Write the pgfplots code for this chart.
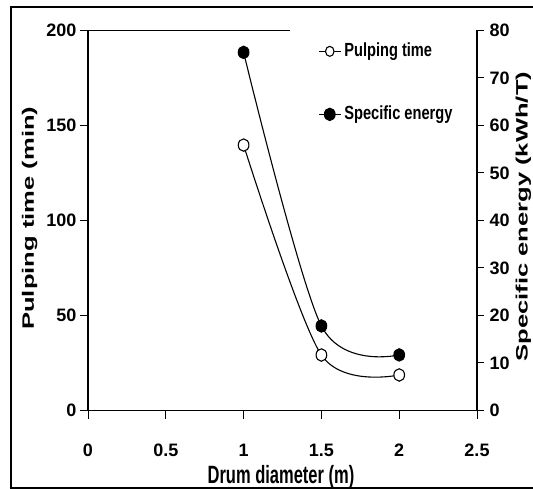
\documentclass[border=0pt]{standalone}
\usepackage{fontspec}
\setmainfont{Liberation Sans}
\newfontfamily\ylabfont{Liberation Sans}[FakeStretch=1.55]
\newfontfamily\xlabfont{Liberation Sans}[FakeStretch=0.66]
\newfontfamily\legfont{Liberation Sans}[FakeStretch=0.77]
\usepackage{pgfplots}
\pgfplotsset{compat=1.18}
\begin{document}
\begin{tikzpicture}
\useasboundingbox (0,0) rectangle (533bp,489bp);
\draw[line width=1.5bp] (11bp,1bp) rectangle (545bp,482bp);
\begin{axis}[
  at={(88bp,78.5bp)}, anchor=south west,
  width=389bp, height=380bp, scale only axis,
  xmin=0, xmax=2.5, ymin=0, ymax=200,
  axis x line*=bottom, axis y line*=left,
  xtick={0,0.5,1,1.5,2,2.5},
  xticklabels={0,0.5,1,1.5,2,2.5},
  ytick={0,50,100,150,200},
  tick align=outside, major tick length=8bp,
  tick style={black, line width=1bp},
  axis line style={line width=1.2bp},
  /pgf/number format/assume math mode=true,
  tick label style={font=\fontsize{18bp}{20bp}\selectfont\bfseries},
  xticklabel style={anchor=base, yshift=-38bp},
  xlabel={\xlabfont\bfseries Drum diameter (m)},
  xlabel style={at={(axis description cs:0.496,-0.1908)}, anchor=base, font=\fontsize{25bp}{27bp}\selectfont},
  ylabel={\ylabfont\bfseries Pulping time (min)},
  ylabel style={at={(axis description cs:-0.139,0.506)}, anchor=base, rotate=0, font=\fontsize{16.5bp}{18bp}\selectfont},
  clip=false,
]
\addplot[black, line width=1.1bp, smooth, mark=*, mark size=6.2bp,
  mark options={solid, fill=white, xscale=0.86}]
  coordinates {(1,139.7) (1.5,29.2) (2,18.7)};
\draw[line width=1.2bp] (axis cs:0,200) -- (axis cs:1.30,200);
\end{axis}
\begin{axis}[
  at={(88bp,78.5bp)}, anchor=south west,
  width=389bp, height=380bp, scale only axis,
  xmin=0, xmax=2.5, ymin=0, ymax=80,
  axis x line=none, axis y line*=right,
  ytick={0,10,20,30,40,50,60,70,80},
  tick align=outside, major tick length=7bp,
  tick style={black, line width=1bp},
  axis line style={line width=1.2bp},
  /pgf/number format/assume math mode=true,
  tick label style={font=\fontsize{18bp}{20bp}\selectfont\bfseries},
  yticklabel style={xshift=2bp},
  ylabel={\ylabfont\bfseries Specific energy (kWh/T)},
  ylabel style={at={(axis description cs:1.130,0.51)}, anchor=base, rotate=0, font=\fontsize{16.5bp}{18bp}\selectfont},
  clip=false,
  legend style={at={(axis description cs:0.5913,0.968)}, anchor=north west,
    draw=none, fill=none, inner sep=0pt, row sep=46bp,
    font=\legfont\fontsize{19bp}{21bp}\selectfont\bfseries,
    nodes={inner sep=0pt, text height=14bp, text depth=3bp},
    column sep=3bp},
  legend cell align=left,
  legend image code/.code={\draw[#1, mark repeat=2, mark phase=2]
    plot coordinates {(0bp,0bp) (11bp,0bp) (22bp,0bp)};},
]
\addlegendimage{black, line width=1.1bp, mark=*, mark size=5bp, mark options={solid, fill=white, xscale=0.85}}
\addlegendentry{Pulping time}
\addplot[black, line width=1.1bp, smooth, mark=*, mark size=6.2bp,
  mark options={solid, fill=black, xscale=0.86}]
  coordinates {(1,75.4) (1.5,17.8) (2,11.7)};
\addlegendentry{Specific energy}
\end{axis}
\end{tikzpicture}
\end{document}
